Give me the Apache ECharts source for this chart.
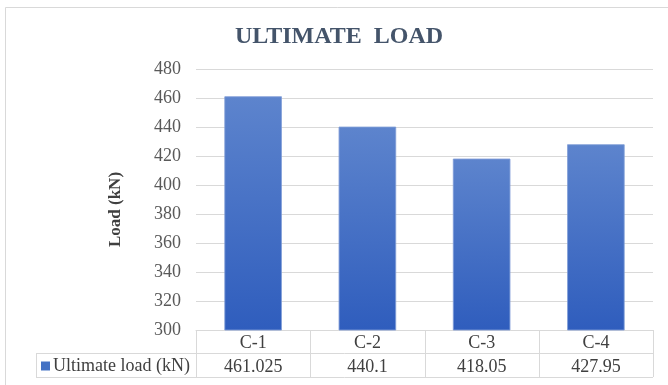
<!DOCTYPE html>
<html>
<head>
<meta charset="utf-8">
<script src="https://cdn.jsdelivr.net/npm/echarts@6/dist/echarts.min.js"></script>
<style>
  html, body { margin: 0; padding: 0; background: #ffffff; }
  #main { width: 668px; height: 385px; }
</style>
</head>
<body>
<div id="main"></div>
<script>
// Ultimate load per column specimen
const categories = ['C-1', 'C-2', 'C-3', 'C-4'];
const loads = [461.025, 440.1, 418.05, 427.95];
const seriesName = 'Ultimate load (kN)';
const yMin = 300;
const yMax = 480;
const yStep = 20;

const serif = '"Liberation Serif", "Times New Roman", serif';
const lineColor = '#d9d9d9';

const chart = echarts.init(document.getElementById('main'), null, { renderer: 'canvas' });

const option = {
  backgroundColor: '#ffffff',
  animation: false,
  title: {
    text: 'ULTIMATE  LOAD',
    left: 230,
    top: 20,
    textStyle: { fontFamily: serif, fontSize: 24, fontWeight: 'bold', color: '#44546a' }
  },
  legend: {
    data: [seriesName],
    left: 41,
    top: 357,
    padding: 0,
    itemWidth: 9,
    itemHeight: 9,
    icon: 'rect',
    selectedMode: false,
    itemStyle: { color: '#4472c4', borderWidth: 0 },
    textStyle: { fontFamily: serif, fontSize: 18, color: '#404040', padding: [0, 0, 0, -2] }
  },
  grid: { left: 196, right: 15, top: 69, bottom: 55 },
  xAxis: {
    type: 'category',
    data: categories,
    axisLine: { show: true, lineStyle: { color: lineColor } },
    axisTick: { show: false },
    axisLabel: {
      margin: 1,
      formatter: function (value, idx) {
        return '{c|' + value + '}\n{v|' + String(loads[idx]) + '}';
      },
      rich: {
        c: { fontFamily: serif, fontSize: 18, color: '#404040', lineHeight: 24 },
        v: { fontFamily: serif, fontSize: 18, color: '#404040', lineHeight: 24 }
      }
    }
  },
  yAxis: {
    type: 'value',
    min: yMin,
    max: yMax,
    interval: yStep,
    name: 'Load (kN)',
    nameLocation: 'middle',
    nameGap: 72,
    nameRotate: 90,
    nameTextStyle: { fontFamily: serif, fontSize: 17, fontWeight: 'bold', color: '#404040', padding: [0, 20, 0, 0] },
    axisLine: { show: false },
    axisTick: { show: false },
    axisLabel: { margin: 15, fontFamily: serif, fontSize: 18, color: '#595959' },
    splitLine: { lineStyle: { color: lineColor, width: 1 } }
  },
  series: [{
    name: seriesName,
    type: 'bar',
    data: loads,
    barWidth: '50%',
    itemStyle: {
      color: new echarts.graphic.LinearGradient(0, 0, 0, 1, [
        { offset: 0, color: '#5d84cd' },
        { offset: 1, color: '#2f5dbd' }
      ]),
      borderColor: '#7d9ad6',
      borderWidth: 0.5
    }
  }]
};

chart.setOption(option);

// Data-table grid under the category axis, laid out from the axis bands
function drawTable() {
  const c0 = chart.convertToPixel({ xAxisIndex: 0 }, categories[0]);
  const c1 = chart.convertToPixel({ xAxisIndex: 0 }, categories[1]);
  const band = c1 - c0;
  const xStart = c0 - band / 2;
  const xEnd = xStart + band * categories.length;
  const yTop = chart.convertToPixel({ yAxisIndex: 0 }, yMin);
  const yMid = yTop + 23;
  const yBot = yTop + 47;
  const labelLeft = 36;
  const stroke = { stroke: lineColor, lineWidth: 1 };
  const els = [];
  const hl = (x1, x2, y) => els.push({ type: 'line', silent: true, shape: { x1: x1, y1: Math.round(y) + 0.5, x2: x2, y2: Math.round(y) + 0.5 }, style: stroke });
  const vl = (x, y1, y2) => els.push({ type: 'line', silent: true, shape: { x1: Math.round(x) + 0.5, y1: y1, x2: Math.round(x) + 0.5, y2: y2 }, style: stroke });
  hl(labelLeft, xEnd, yMid);
  hl(labelLeft, xEnd, yBot);
  vl(labelLeft, yMid, yBot);
  for (let i = 0; i <= categories.length; i++) {
    vl(xStart + band * i, yTop, yBot);
  }
  // chart frame
  els.push({ type: 'rect', silent: true, shape: { x: 5.5, y: 7.5, width: 700, height: 400 }, style: { fill: null, stroke: '#d9d9d9', lineWidth: 1 } });
  chart.setOption({ graphic: { elements: els } });
}
drawTable();
</script>
</body>
</html>
